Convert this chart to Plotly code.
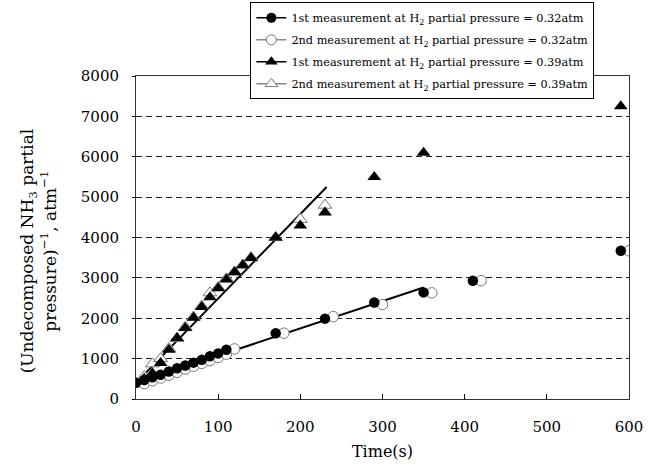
import plotly.graph_objects as go

# ---- data ----
t_1st_032 = [0, 10, 20, 30, 40, 50, 60, 70, 80, 90, 100, 110, 170, 230, 290, 350, 410, 590]
y_1st_032 = [400, 470, 540, 600, 680, 760, 830, 900, 970, 1060, 1130, 1220, 1630, 1990, 2390, 2640, 2930, 3670]

t_2nd_032 = [10, 20, 30, 40, 50, 60, 70, 80, 90, 100, 110, 120, 180, 240, 300, 360, 420, 600]
y_2nd_032 = [380, 450, 520, 590, 660, 740, 810, 880, 950, 1030, 1110, 1240, 1630, 2040, 2340, 2630, 2930, 3670]

t_1st_039 = [0, 10, 20, 30, 40, 50, 60, 70, 80, 90, 100, 110, 120, 130, 140, 170, 200, 230, 290, 350, 590]
y_1st_039 = [390, 500, 640, 890, 1220, 1510, 1760, 2010, 2280, 2520, 2740, 2960, 3140, 3310, 3490, 4000, 4300, 4620, 5500, 6100, 7250]

t_2nd_039 = [0, 10, 20, 30, 40, 50, 60, 70, 80, 90, 100, 110, 120, 130, 140, 170, 200, 230]
y_2nd_039 = [380, 560, 870, 1000, 1250, 1500, 1780, 2030, 2300, 2630, 2760, 2980, 3150, 3320, 3500, 4000, 4450, 4800]

fit_032_t = [0, 350]
fit_032_y = [400, 2760]
fit_039_t = [0, 232]
fit_039_y = [400, 5250]

legend_names = [
    "1st measurement at H<sub>2</sub> partial pressure = 0.32atm",
    "2nd measurement at H<sub>2</sub> partial pressure = 0.32atm",
    "1st measurement at H<sub>2</sub> partial pressure = 0.39atm",
    "2nd measurement at H<sub>2</sub> partial pressure = 0.39atm",
]

FONT = "DejaVu Serif"

fig = go.Figure()

# fit lines
fig.add_trace(go.Scatter(x=fit_032_t, y=fit_032_y, mode="lines",
                         line=dict(color="black", width=2), showlegend=False))
fig.add_trace(go.Scatter(x=fit_039_t, y=fit_039_y, mode="lines",
                         line=dict(color="black", width=2), showlegend=False))

open_line = dict(color="#777777", width=1)
fig.add_trace(go.Scatter(x=t_2nd_039, y=y_2nd_039, mode="markers", showlegend=False,
                         marker=dict(symbol="triangle-up", size=12, color="white", line=open_line)))
fig.add_trace(go.Scatter(x=t_1st_039, y=y_1st_039, mode="markers", showlegend=False,
                         marker=dict(symbol="triangle-up", size=12, color="black", line=dict(width=0))))
fig.add_trace(go.Scatter(x=t_2nd_032, y=y_2nd_032, mode="markers", showlegend=False,
                         marker=dict(symbol="circle", size=10.5, color="white", line=open_line)))
fig.add_trace(go.Scatter(x=t_1st_032, y=y_1st_032, mode="markers", showlegend=False,
                         marker=dict(symbol="circle", size=10.5, color="black", line=dict(width=0))))

# legend entries
leg_styles = [
    dict(line=dict(color="black", width=1.5), marker=dict(symbol="circle", size=10, color="black")),
    dict(line=dict(color="#888888", width=1.5), marker=dict(symbol="circle", size=10, color="white", line=open_line)),
    dict(line=dict(color="black", width=1.5), marker=dict(symbol="triangle-up", size=11, color="black")),
    dict(line=dict(color="#888888", width=1.5), marker=dict(symbol="triangle-up", size=11, color="white", line=open_line)),
]
for name, st in zip(legend_names, leg_styles):
    fig.add_trace(go.Scatter(x=[None], y=[None], mode="lines+markers", name=name,
                             legendgroup=name, **st))

fig.update_layout(
    width=659, height=471,
    margin=dict(l=136, r=30, t=76, b=72, autoexpand=False),
    paper_bgcolor="white", plot_bgcolor="white",
    font=dict(family=FONT, size=15, color="black"),
    legend=dict(x=0.232, y=1.228, xanchor="left", yanchor="top",
                bgcolor="white", bordercolor="black", borderwidth=1,
                itemwidth=30,
                font=dict(family=FONT, size=11.3), tracegroupgap=3),
    xaxis=dict(range=[0, 600], dtick=100, showgrid=False, zeroline=False,
               showline=True, linecolor="#333333", linewidth=1, mirror=True,
               ticks="inside", ticklen=5, tickcolor="black",
               ticklabelstandoff=14,
               tickfont=dict(family=FONT, size=15),
               title=dict(text="Time(s)", font=dict(family=FONT, size=16), standoff=10)),
    yaxis=dict(range=[0, 8000], dtick=1000, showgrid=True, gridcolor="#222222",
               gridwidth=1, griddash="6px,4px", zeroline=False,
               showline=True, linecolor="#333333", linewidth=1, mirror=True,
               ticks="outside", ticklen=3, tickcolor="black",
               ticklabelstandoff=10,
               tickfont=dict(family=FONT, size=15)),
)

fig.add_annotation(
    text="(Undecomposed NH<sub>3</sub> partial<br>pressure)<sup>\u22121</sup>, atm<sup>\u22121</sup>",
    xref="paper", yref="paper", x=-0.197, y=0.46, xanchor="center", yanchor="middle",
    textangle=-90, showarrow=False,
    font=dict(family=FONT, size=17), align="center",
)

fig.write_html("out.html")
